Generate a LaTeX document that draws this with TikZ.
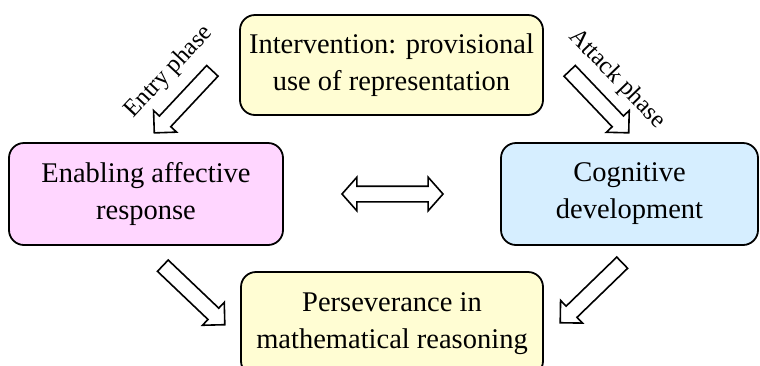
\documentclass[tikz,border=0pt]{standalone}
\usepackage{fontspec}
\setmainfont{Liberation Serif}
\usetikzlibrary{shapes.arrows}
\definecolor{cream}{HTML}{FFFDD3}
\definecolor{pinkbox}{HTML}{FFD6FF}
\definecolor{bluebox}{HTML}{D6EEFF}
\tikzset{
  box/.style={draw=black, line width=1.8pt, rounded corners=15pt, align=center,
    font=\fontsize{28.5}{37}\selectfont, inner sep=0pt},
  blockarrow/.style={single arrow, draw=black, line width=1.6pt, fill=white,
    inner sep=7pt, single arrow head extend=8pt, single arrow tip angle=90},
  dblarrow/.style={double arrow, draw=black, line width=1.6pt, fill=white,
    inner sep=7pt, double arrow head extend=9pt, double arrow tip angle=97},
  phase/.style={font=\fontsize{24.5}{28}\selectfont, inner sep=0pt}
}
\begin{document}
\begin{tikzpicture}[x=1pt,y=-1pt]
\useasboundingbox (0,0) rectangle (760,365);
\node[box, fill=cream, minimum width=303pt, minimum height=100pt] (top) at (391.5,65) {Intervention: provisional\\use of representation};
\node[box, fill=pinkbox, minimum width=274pt, minimum height=102pt] (left) at (146,194) {Enabling affective\\response};
\node[box, fill=bluebox, minimum width=257pt, minimum height=102pt] (right) at (629.5,194) {Cognitive\\development};
\node[box, fill=cream, minimum width=302pt, minimum height=104pt] (bottom) at (392,324) {Perseverance in\\mathematical reasoning};
\node[blockarrow, minimum height=85pt, rotate=226.9] (entry) at (186,99) {};
\node[blockarrow, minimum height=85.6pt, rotate=-46.4] (attack) at (596.5,99) {};
\node[blockarrow, minimum height=85.6pt, rotate=-43.6] (bl) at (191,292.5) {};
\node[blockarrow, minimum height=86.3pt, rotate=224.1] (br) at (594,290) {};
\node[dblarrow, minimum height=101pt] (mid) at (392.5,194) {};
\node[phase, rotate=47] (entrylabel) at (169,72) {Entry phase};
\node[phase, rotate=-46] (attacklabel) at (617,79) {Attack phase};
\end{tikzpicture}
\end{document}
